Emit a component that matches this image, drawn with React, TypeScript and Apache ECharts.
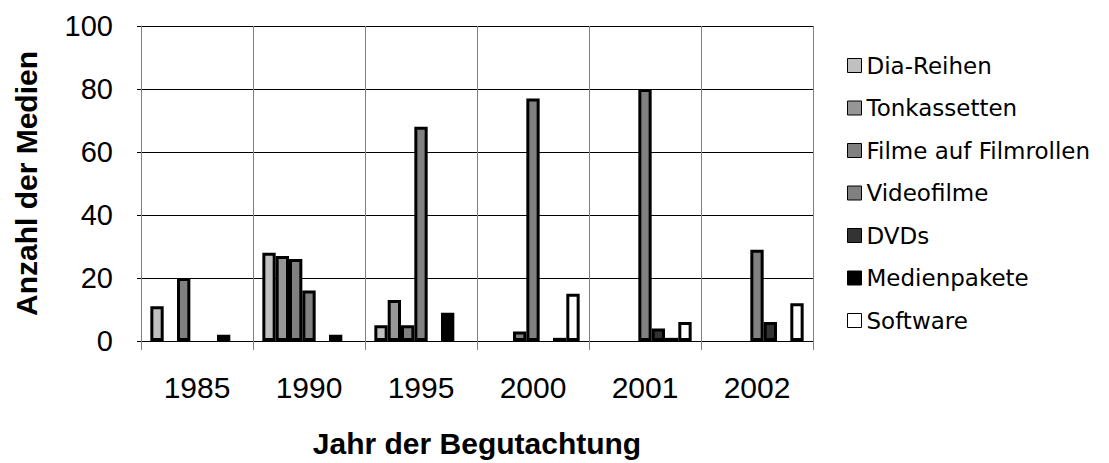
import React, { useEffect, useRef } from "react";
import * as echarts from "echarts";

const categories = ["1985", "1990", "1995", "2000", "2001", "2002"];
const diaReihen = [11, 28, 5, null, null, null];
const tonkassetten = [null, 27, 13, null, null, null];
const filmeAufFilmrollen = [20, 26, 5, 3, null, null];
const videofilme = [null, 16, 68, 77, 80, 29];
const dvds = [null, null, null, null, 4, 6];
const medienpakete = [2, 2, 9, 1, 1, null];
const software = [null, null, null, 15, 6, 12];

const seriesDefs = [
  { name: "Dia-Reihen", data: diaReihen, color: "#C0C0C0" },
  { name: "Tonkassetten", data: tonkassetten, color: "#969696" },
  { name: "Filme auf Filmrollen", data: filmeAufFilmrollen, color: "#808080" },
  { name: "Videofilme", data: videofilme, color: "#808080" },
  { name: "DVDs", data: dvds, color: "#333333" },
  { name: "Medienpakete", data: medienpakete, color: "#000000" },
  { name: "Software", data: software, color: "#FFFFFF" },
];

const FONT = "Liberation Sans, Arial, sans-serif";

export default function App() {
  const ref = useRef<HTMLDivElement>(null);
  useEffect(() => {
    if (!ref.current) return;
    const chart = echarts.init(ref.current, undefined, { renderer: "svg" });
    chart.setOption({
      animation: false,
      backgroundColor: "#ffffff",
      grid: { left: 141, right: 296, top: 26, bottom: 117, containLabel: false },
      legend: {
        orient: "vertical",
        left: 842,
        top: 49,
        itemWidth: 14,
        itemHeight: 14,
        itemGap: 19.5,
        icon: "rect",
        itemStyle: { borderColor: "#000", borderWidth: 1 },
        textStyle: {
          fontFamily: "DejaVu Sans, sans-serif",
          fontSize: 23,
          lineHeight: 23,
          color: "#000",
        },
        data: seriesDefs.map((s) => s.name),
      },
      xAxis: {
        type: "category",
        data: categories,
        name: "Jahr der Begutachtung",
        nameLocation: "middle",
        nameGap: 87,
        nameTextStyle: {
          fontFamily: FONT,
          fontSize: 30,
          fontWeight: "bold",
          color: "#000",
          verticalAlign: "top",
        },
        axisLine: { show: true, lineStyle: { color: "#000", width: 1 } },
        axisTick: { show: true, length: 9, lineStyle: { color: "#808080", width: 1 } },
        axisLabel: { fontFamily: FONT, fontSize: 30, color: "#000", margin: 31 },
        splitLine: { show: true, lineStyle: { color: "#808080", width: 1 } },
      },
      yAxis: {
        type: "value",
        min: 0,
        max: 100,
        interval: 20,
        name: "Anzahl der Medien",
        nameLocation: "middle",
        nameRotate: 90,
        nameGap: 100,
        nameTextStyle: {
          fontFamily: FONT,
          fontSize: 30,
          fontWeight: "bold",
          color: "#000",
        },
        axisLine: { show: true, lineStyle: { color: "#808080", width: 1 } },
        axisTick: { show: true, length: 4, lineStyle: { color: "#000", width: 1 } },
        axisLabel: { fontFamily: FONT, fontSize: 29, color: "#000", margin: 28 },
        splitLine: { show: true, lineStyle: { color: "#000", width: 1 } },
      },
      series: seriesDefs.map((s) => ({
        name: s.name,
        type: "bar",
        data: s.data,
        barGap: "0%",
        barCategoryGap: "16.7%",
        itemStyle: { color: s.color, borderColor: "#000", borderWidth: 3 },
      })),
    });
    return () => chart.dispose();
  }, []);
  return (
    <div
      ref={ref}
      style={{ position: "fixed", left: 0, top: 0, width: 1109, height: 463 }}
    />
  );
}
